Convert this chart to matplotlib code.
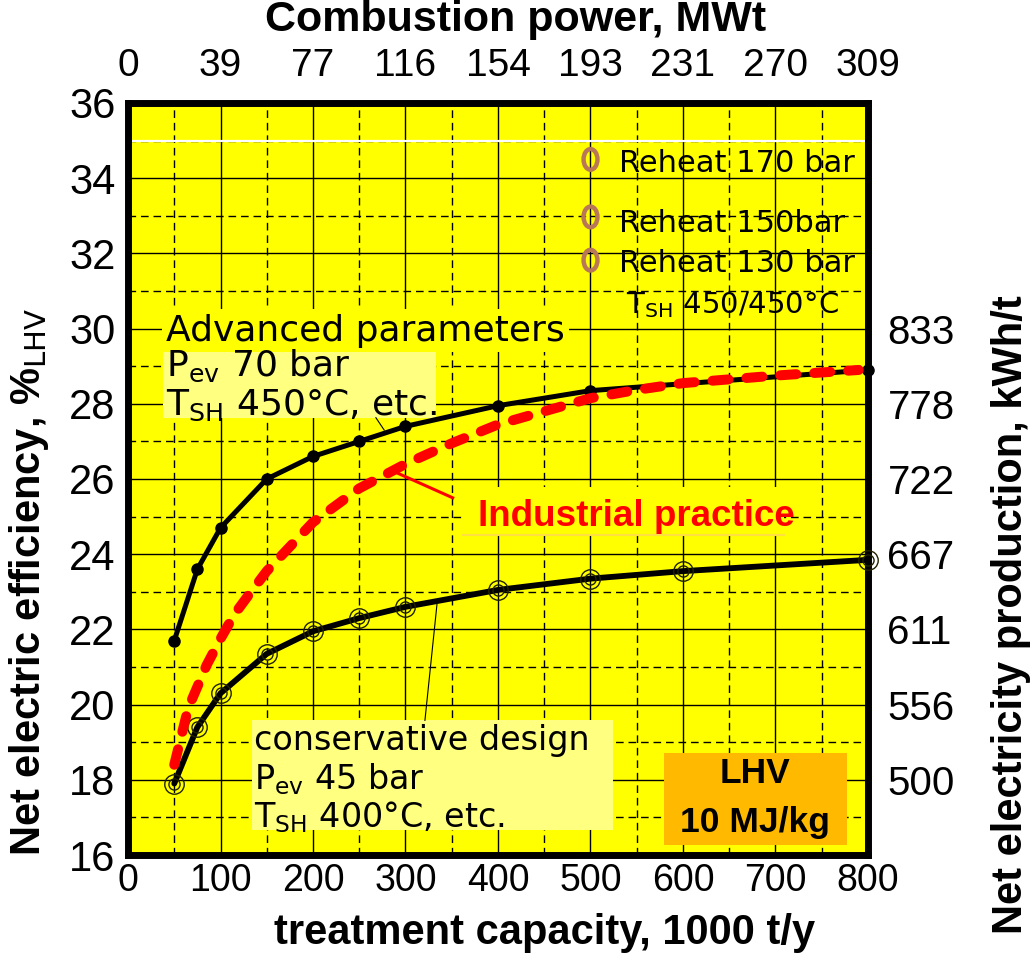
import matplotlib
matplotlib.use("Agg")
import matplotlib.pyplot as plt
from matplotlib.ticker import MultipleLocator
from matplotlib.patches import Rectangle, Ellipse

# ---- data -------------------------------------------------------------
capacity_adv = [50, 75, 100, 150, 200, 250, 300, 400, 500, 800]
eff_adv = [21.7, 23.6, 24.7, 26.0, 26.6, 27.0, 27.4, 27.95, 28.35, 28.9]

capacity_cons = [50, 75, 100, 150, 200, 250, 300, 400, 500, 600, 800]
eff_cons = [17.9, 19.4, 20.3, 21.35, 21.95, 22.3, 22.6, 23.05, 23.35, 23.55, 23.85]

capacity_ind = [50, 65, 85, 100, 115, 130, 150, 200, 250, 300, 350, 400,
                450, 500, 550, 600, 700, 790]
eff_ind = [18.4, 19.9, 21.05, 21.75, 22.4, 22.9, 23.55, 24.85, 25.75, 26.4,
           26.95, 27.45, 27.8, 28.15, 28.37, 28.55, 28.75, 28.9]

bottom_ticks = [0, 100, 200, 300, 400, 500, 600, 700, 800]
top_tick_labels = ["0", "39", "77", "116", "154", "193", "231", "270", "309"]
right_ticks = [18, 20, 22, 24, 26, 28, 30]
right_tick_labels = ["500", "556", "611", "667", "722", "778", "833"]

reheat_labels = ["Reheat 170 bar", "Reheat 150bar", "Reheat 130 bar"]

# ---- figure ------------------------------------------------------------
W, H = 1033, 955
fig = plt.figure(figsize=(W / 100, H / 100), dpi=100)
ax = fig.add_axes([128 / W, 1 - 855 / H, (868 - 128) / W, (855 - 103) / H])
ax.set_facecolor("#FFFF00")
ax.set_xlim(0, 800)
ax.set_ylim(16, 36)

AX_FONT = "Liberation Sans"
ANN_FONT = "DejaVu Sans"

# grid: solid at major, dashed at minor
ax.xaxis.set_major_locator(MultipleLocator(100))
ax.xaxis.set_minor_locator(MultipleLocator(50))
ax.yaxis.set_major_locator(MultipleLocator(2))
ax.yaxis.set_minor_locator(MultipleLocator(1))
ax.grid(which="major", color="black", lw=1.0, ls="-")
ax.grid(which="minor", color="black", lw=1.0, ls=(0, (5.5, 3.5)))
ax.set_axisbelow(True)
ax.tick_params(which="both", length=0)
ax.tick_params(axis="y", labelsize=30, pad=9)
ax.tick_params(axis="x", labelsize=27, pad=6)
for lab in ax.get_xticklabels() + ax.get_yticklabels():
    lab.set_fontfamily(AX_FONT)
for sp in ax.spines.values():
    sp.set_linewidth(5)
    sp.set_zorder(5)

# thin white rule near the top of the plot area
ax.axhline(35, color="white", lw=1.6, zorder=2)

# top axis: combustion power
axt = ax.twiny()
axt.set_xlim(ax.get_xlim())
axt.set_xticks(bottom_ticks)
axt.set_xticklabels(top_tick_labels, fontfamily=AX_FONT)
axt.tick_params(length=0, labelsize=28, pad=14)
for sp in axt.spines.values():
    sp.set_visible(False)

# right axis: electricity per tonne
axr = ax.twinx()
axr.set_ylim(ax.get_ylim())
axr.set_yticks(right_ticks)
axr.set_yticklabels(right_tick_labels, fontfamily=AX_FONT)
axr.tick_params(length=0, labelsize=29, pad=14)
for sp in axr.spines.values():
    sp.set_visible(False)

# ---- curves ------------------------------------------------------------
ax.plot(capacity_cons, eff_cons, color="black", lw=4.2, zorder=6,
        solid_capstyle="round", clip_on=False)
ax.plot(capacity_cons, eff_cons, ls="none", marker="o", ms=14,
        mfc="none", mec="#222200", mew=1.0, zorder=7, clip_on=False)
ax.plot(capacity_cons, eff_cons, ls="none", marker="o", ms=8,
        mfc="none", mec="#222200", mew=1.0, zorder=7, clip_on=False)

ax.plot(capacity_adv, eff_adv, color="black", lw=3.6, marker="o", ms=8,
        mfc="black", mec="black", zorder=8, clip_on=False)

ax.plot(capacity_ind, eff_ind, color="#FF0000", lw=7.2,
        ls=(0, (1.6, 1.8)), dash_capstyle="round", zorder=9)

# ---- annotations -------------------------------------------------------
ax.text(41, 29.68, "Advanced parameters", fontfamily=ANN_FONT, fontsize=26,
        va="baseline", ha="left", zorder=4,
        bbox=dict(fc="#FFFF00", ec="none", pad=3))
ax.add_patch(Rectangle((38, 27.63), 295, 1.82, fc="#FFFF80", ec="none", zorder=3))
ax.text(41, 28.74, r"P$_{\rm ev}$ 70 bar", fontfamily=ANN_FONT, fontsize=26,
        va="baseline", ha="left", zorder=4)
ax.text(41, 27.71, r"T$_{\rm SH}$ 450°C, etc.", fontfamily=ANN_FONT, fontsize=26,
        va="baseline", ha="left", zorder=4)
ax.plot([268, 277], [27.63, 27.3], color="black", lw=0.8, zorder=4)

ax.add_patch(Rectangle((134, 16.66), 390, 2.92, fc="#FFFF80", ec="none", zorder=3))
ax.text(136, 18.79, "conservative design", fontfamily=ANN_FONT, fontsize=24,
        va="baseline", ha="left", zorder=4)
ax.text(136, 17.74, r"P$_{\rm ev}$ 45 bar", fontfamily=ANN_FONT, fontsize=24,
        va="baseline", ha="left", zorder=4)
ax.text(136, 16.75, r"T$_{\rm SH}$ 400°C, etc.", fontfamily=ANN_FONT, fontsize=24,
        va="baseline", ha="left", zorder=4)
ax.plot([321, 334], [19.58, 22.66], color="black", lw=0.8, zorder=4)

ax.add_patch(Rectangle((362, 24.5), 347, 1.3, fc="#FFFF00", ec="none", zorder=3))
ax.plot([362, 709], [24.5, 24.5], color="#FFE040", lw=1.5, zorder=3)
ax.text(378, 24.76, "Industrial practice", fontfamily=AX_FONT, fontsize=26.5,
        fontweight="bold", color="#FF0000", va="baseline", ha="left", zorder=4)
ax.plot([291, 351], [26.16, 25.5], color="#FF0000", lw=2.2, zorder=9)

ax.add_patch(Rectangle((579, 16.26), 198, 2.45, fc="#FFBA00", ec="none", zorder=4))
ax.text(678, 17.92, "LHV", fontfamily=AX_FONT, fontsize=25.5, fontweight="bold",
        va="baseline", ha="center", zorder=5)
ax.text(678, 16.6, "10 MJ/kg", fontfamily=AX_FONT, fontsize=25.5, fontweight="bold",
        va="baseline", ha="center", zorder=5)

# reheat legend entries
for lab, my, ty in zip(reheat_labels, [34.5, 32.97, 31.82], [34.16, 32.58, 31.5]):
    ax.add_patch(Ellipse((500, my), 15, 0.55, fc="none", ec="#B87858",
                         lw=3.2, zorder=4))
    ax.text(531, ty, lab, fontfamily=ANN_FONT, fontsize=22, va="baseline",
            ha="left", zorder=4)
ax.text(538, 30.42, r"T$_{\rm SH}$ 450/450°C", fontfamily=ANN_FONT, fontsize=21,
        va="baseline", ha="left", zorder=4)

# ---- axis titles -------------------------------------------------------
fig.text(545 / W, 1 - 933 / H, "treatment capacity, 1000 t/y", fontfamily=AX_FONT,
         fontsize=30, fontweight="bold", ha="center", va="center")
fig.text(516 / W, 1 - 20 / H, "Combustion power, MWt", fontfamily=AX_FONT,
         fontsize=31, fontweight="bold", ha="center", va="center")
fig.text(29 / W, 1 - 582 / H, r"Net electric efficiency, %$_{\rm LHV}$",
         fontfamily=AX_FONT, fontsize=30, fontweight="bold", rotation=90,
         ha="center", va="center")
fig.text(1011 / W, 1 - 615 / H, "Net electricity production, kWh/t",
         fontfamily=AX_FONT, fontsize=30, fontweight="bold", rotation=90,
         ha="center", va="center")

fig.savefig("out.png", dpi=100, facecolor="white")
